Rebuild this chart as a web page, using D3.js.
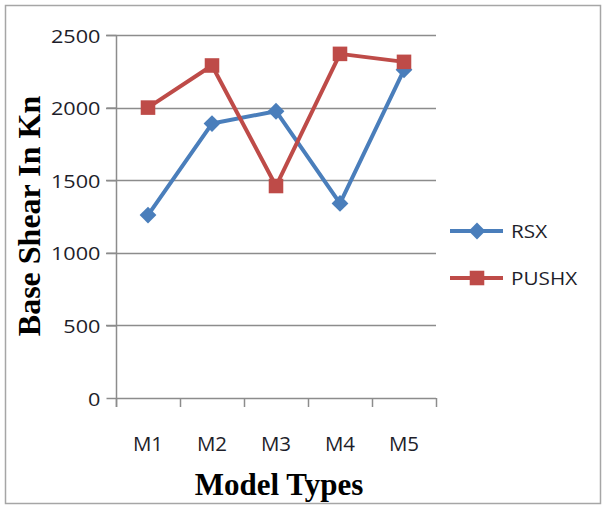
<!DOCTYPE html>
<html>
<head>
<meta charset="utf-8">
<script src="https://cdn.jsdelivr.net/npm/d3@7"></script>
<style>
  html, body { margin: 0; padding: 0; background: #fff; }
  svg { display: block; }
</style>
</head>
<body>
<svg id="chart" width="605" height="506"></svg>
<script>
// Model categories and base shear values (kN)
const categories = ["M1", "M2", "M3", "M4", "M5"];
const rsx = [1260, 1890, 1975, 1340, 2260];
const pushx = [2000, 2290, 1460, 2370, 2315];
const yTicks = [0, 500, 1000, 1500, 2000, 2500];
const seriesNames = ["RSX", "PUSHX"];

const colors = { RSX: "#4A7EBB", PUSHX: "#BE4B48" };
const labelFont = "'Open Sans', 'Liberation Sans', sans-serif";
const titleFont = "'Liberation Serif', 'DejaVu Serif', serif";

const svg = d3.select("#chart");

// Outer chart frame
svg.append("rect")
  .attr("x", 5.5).attr("y", 5.5)
  .attr("width", 595).attr("height", 498)
  .attr("fill", "#fff")
  .attr("stroke", "#a6a6a6")
  .attr("stroke-width", 1.5);

const plot = { left: 116, right: 436, top: 35, bottom: 398 };

const x = d3.scaleBand()
  .domain(categories)
  .range([plot.left, plot.right])
  .paddingInner(0).paddingOuter(0);

const y = d3.scaleLinear()
  .domain([0, 2500])
  .range([plot.bottom, plot.top]);

// Horizontal gridlines
svg.append("g")
  .selectAll("line")
  .data(yTicks.filter(d => d > 0))
  .join("line")
  .attr("x1", plot.left - 10)
  .attr("x2", plot.right)
  .attr("y1", d => Math.round(y(d)) + 0.5)
  .attr("y2", d => Math.round(y(d)) + 0.5)
  .attr("stroke", "#8c8c8c")
  .attr("stroke-width", 1.5);

// Y axis
const yAxis = d3.axisLeft(y)
  .tickValues(yTicks)
  .tickSize(10)
  .tickFormat(d3.format("d"));

const gy = svg.append("g")
  .attr("transform", `translate(${plot.left + 0.5},0)`)
  .call(yAxis);
gy.select(".domain").attr("stroke", "#8c8c8c").attr("stroke-width", 1.5)
  .attr("d", `M0,${plot.top}V${plot.bottom + 9}`);
gy.selectAll(".tick line").attr("stroke", "#8c8c8c").attr("stroke-width", 1.5);
gy.selectAll(".tick text")
  .attr("x", 0)
  .attr("dy", null)
  .attr("y", 7)
  .attr("transform", "translate(-16,0) scale(1.14,1)")
  .attr("font-family", labelFont)
  .attr("font-size", 19)
  .attr("fill", "#1e1e2a");

// X axis
const xAxis = d3.axisBottom(x)
  .tickSize(0);

const gx = svg.append("g")
  .attr("transform", `translate(0,${plot.bottom + 0.5})`)
  .call(xAxis);
gx.select(".domain").attr("stroke", "#8c8c8c").attr("stroke-width", 1.5)
  .attr("d", `M${plot.left},0H${plot.right}`);
gx.selectAll(".tick text")
  .attr("dy", null)
  .attr("y", 52)
  .attr("font-family", labelFont)
  .attr("font-size", 20.5)
  .attr("fill", "#1e1e2a");

// Category boundary tick marks
const boundaries = categories.map(c => x(c)).concat([x.range()[1]]);
svg.append("g")
  .selectAll("line")
  .data(boundaries)
  .join("line")
  .attr("x1", d => Math.round(d) + 0.5)
  .attr("x2", d => Math.round(d) + 0.5)
  .attr("y1", plot.bottom)
  .attr("y2", plot.bottom + 9)
  .attr("stroke", "#8c8c8c")
  .attr("stroke-width", 1.5);

// Axis titles
svg.append("text")
  .attr("transform", `translate(40,${216}) rotate(-90)`)
  .attr("text-anchor", "middle")
  .attr("font-family", titleFont)
  .attr("font-weight", "bold")
  .attr("font-size", 32)
  .attr("fill", "#000")
  .text("Base Shear In Kn");

svg.append("text")
  .attr("x", 279)
  .attr("y", 495)
  .attr("text-anchor", "middle")
  .attr("font-family", titleFont)
  .attr("font-weight", "bold")
  .attr("font-size", 31)
  .attr("fill", "#000")
  .text("Model Types");

// Series lines and markers
const cx = c => x(c) + x.bandwidth() / 2;
const line = d3.line()
  .x(d => cx(d.cat))
  .y(d => y(d.value));

const series = [
  { name: "RSX", values: rsx },
  { name: "PUSHX", values: pushx }
];

const diamond = d3.symbol().type(d3.symbolDiamond2).size(180);
const square = d3.symbol().type(d3.symbolSquare2).size(270);

series.forEach(s => {
  const pts = categories.map((c, i) => ({ cat: c, value: s.values[i] }));
  svg.append("path")
    .datum(pts)
    .attr("d", line)
    .attr("fill", "none")
    .attr("stroke", colors[s.name])
    .attr("stroke-width", 4)
    .attr("stroke-linejoin", "round");
});

series.forEach(s => {
  const pts = categories.map((c, i) => ({ cat: c, value: s.values[i] }));
  svg.append("g")
    .selectAll("path")
    .data(pts)
    .join("path")
    .attr("transform", d => `translate(${cx(d.cat)},${y(d.value)})`)
    .attr("d", s.name === "RSX" ? diamond : square)
    .attr("fill", colors[s.name]);
});

// Legend
const legend = svg.append("g");
seriesNames.forEach((name, i) => {
  const ly = 231 + i * 47;
  legend.append("line")
    .attr("x1", 450).attr("x2", 503)
    .attr("y1", ly).attr("y2", ly)
    .attr("stroke", colors[name])
    .attr("stroke-width", 4);
  legend.append("path")
    .attr("transform", `translate(477,${ly})`)
    .attr("d", name === "RSX" ? diamond : square)
    .attr("fill", colors[name]);
  legend.append("text")
    .attr("transform", `translate(511,${ly + 7}) scale(1.12,1)`)
    .attr("font-family", labelFont)
    .attr("font-size", 18.5)
    .attr("fill", "#1e1e2a")
    .text(name);
});
</script>
</body>
</html>
